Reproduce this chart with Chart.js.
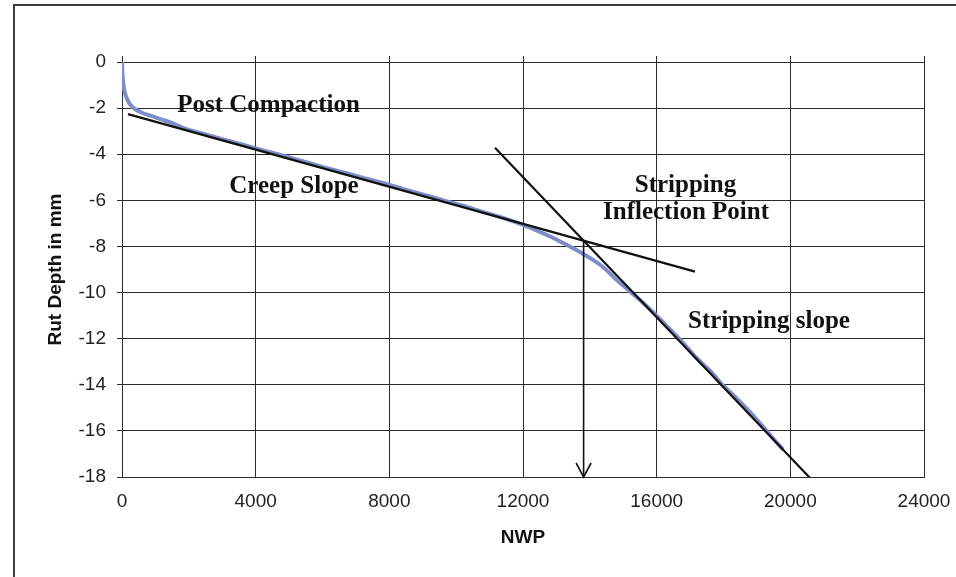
<!DOCTYPE html>
<html>
<head>
<meta charset="utf-8">
<script src="https://cdn.jsdelivr.net/npm/chart.js@4.4.1/dist/chart.umd.min.js"></script>
<style>
  html, body { margin: 0; padding: 0; background: #ffffff; }
  #wrap { position: relative; width: 956px; height: 577px; overflow: hidden; }
  #frame { position: absolute; left: 13px; top: 4px; width: 1000px; height: 700px;
           border-left: 2px solid #3c3c3c; border-top: 2px solid #3c3c3c; }
  canvas { position: absolute; left: 0; top: 0; }
</style>
</head>
<body>
<div id="wrap">
  <div id="frame"></div>
  <canvas id="chart" width="956" height="577"></canvas>
</div>
<script>
// Measured rut depth (mm) against number of wheel passes
const nwp = [0, 15, 40, 80, 150, 250, 400, 600, 850, 1150, 1500, 1900, 2400, 3000, 3600,
  4200, 4800, 5400, 6000, 6600, 7200, 7800, 8400, 9000, 9600, 10200, 10800, 11400, 12000,
  12400, 12800, 13200, 13600, 14000, 14400, 14800, 15200, 15600, 16000, 16400, 16800,
  17200, 17600, 18000, 18400, 18800, 19200, 19500, 19780];
const rutDepth = [0, -0.55, -0.95, -1.3, -1.6, -1.85, -2.05, -2.2, -2.33, -2.48, -2.65, -2.9,
  -3.1, -3.35, -3.58, -3.82, -4.05, -4.3, -4.55, -4.78, -5.02, -5.25, -5.5, -5.74, -5.99,
  -6.23, -6.5, -6.76, -7.06, -7.3, -7.56, -7.85, -8.15, -8.5, -8.9, -9.45, -9.95, -10.45,
  -11.0, -11.6, -12.2, -12.85, -13.4, -14.05, -14.6, -15.2, -15.85, -16.35, -16.8];

// Fitted creep and stripping lines (end points)
const creepNwp = [180, 17146];
const creepDepth = [-2.26, -9.09];
const stripNwp = [11162, 20588];
const stripDepth = [-3.72, -18.04];

// Axis ticks
const xTickValues = [0, 4000, 8000, 12000, 16000, 20000, 24000];
const yTickValues = [0, -2, -4, -6, -8, -10, -12, -14, -16, -18];

// Annotation texts
const noteTexts = ['Post Compaction', 'Creep Slope', 'Stripping', 'Inflection Point', 'Stripping slope'];
const noteNwp = [4384, 5147, 16863, 16878, 19361];
const noteDepth = [-2.15, -5.69, -5.62, -6.82, -11.55];

// Stripping inflection point = intersection of the two fitted lines
const creepSlope = (creepDepth[1] - creepDepth[0]) / (creepNwp[1] - creepNwp[0]);
const stripSlope = (stripDepth[1] - stripDepth[0]) / (stripNwp[1] - stripNwp[0]);
const inflNwp = (stripDepth[0] - stripSlope * stripNwp[0] - creepDepth[0] + creepSlope * creepNwp[0]) /
                (creepSlope - stripSlope);
const inflDepth = creepDepth[0] + creepSlope * (inflNwp - creepNwp[0]);
const yMin = yTickValues[yTickValues.length - 1];

const pts = (xs, ys) => xs.map((x, i) => ({ x: x, y: ys[i] }));

const notesPlugin = {
  id: 'notes',
  afterDatasetsDraw(chart) {
    const { ctx, scales } = chart;
    const xs = scales.x, ys = scales.y;
    ctx.save();
    // arrow head at the bottom of the inflection marker
    const ax = xs.getPixelForValue(inflNwp);
    const ay = ys.getPixelForValue(yMin);
    ctx.strokeStyle = '#111';
    ctx.lineWidth = 1.6;
    ctx.beginPath();
    ctx.moveTo(ax - 7.5, ay - 14);
    ctx.lineTo(ax, ay);
    ctx.lineTo(ax + 7.5, ay - 14);
    ctx.stroke();
    // text labels
    ctx.fillStyle = '#111';
    ctx.font = 'bold 25px "Liberation Serif", "Times New Roman", serif';
    ctx.textAlign = 'center';
    ctx.textBaseline = 'alphabetic';
    noteTexts.forEach((t, i) => {
      ctx.fillText(t, xs.getPixelForValue(noteNwp[i]), ys.getPixelForValue(noteDepth[i]));
    });
    ctx.restore();
  }
};

const tickFont = { family: '"Liberation Sans", Arial, sans-serif', size: 19 };
const titleFont = { family: '"Liberation Sans", Arial, sans-serif', size: 19, weight: 'bold' };
const gridColor = '#2a2a2a';

// horizontal axes: edge labels may overhang, the layout padding leaves room for them
const noSidePadding = s => { s.paddingLeft = 0; s.paddingRight = 0; };

new Chart(document.getElementById('chart'), {
  type: 'scatter',
  data: {
    datasets: [
      { data: pts(creepNwp, creepDepth), showLine: true, borderColor: '#111', borderWidth: 2.2,
        pointRadius: 0, order: 1 },
      { data: pts(stripNwp, stripDepth), showLine: true, borderColor: '#111', borderWidth: 2.2,
        pointRadius: 0, order: 1 },
      { data: [{ x: inflNwp, y: inflDepth }, { x: inflNwp, y: yMin }], showLine: true,
        borderColor: '#111', borderWidth: 1.6, pointRadius: 0, order: 1 },
      { data: pts(nwp, rutDepth), showLine: true, borderColor: '#7d8dca', borderWidth: 4,
        pointRadius: 0, tension: 0.3, order: 2 }
    ]
  },
  options: {
    responsive: false,
    animation: false,
    devicePixelRatio: 1,
    layout: { padding: { left: 0, right: 32, top: 56, bottom: 0 } },
    plugins: { legend: { display: false }, tooltip: { enabled: false } },
    scales: {
      x: {
        type: 'linear', position: 'bottom', min: 0, max: 24000,
        afterBuildTicks: s => { s.ticks = xTickValues.map(v => ({ value: v })); },
        afterFit: s => { s.height = 100; noSidePadding(s); },
        grid: { color: gridColor, lineWidth: 1, drawTicks: false },
        border: { color: gridColor, width: 1 },
        ticks: { font: tickFont, color: '#222', padding: 13, maxRotation: 0,
                 callback: v => String(v) },
        title: { display: true, text: 'NWP', font: titleFont, color: '#111',
                 padding: { top: 0, bottom: 28 } }
      },
      xTop: {
        type: 'linear', position: 'top', min: 0, max: 24000,
        afterBuildTicks: s => { s.ticks = xTickValues.map(v => ({ value: v })); },
        afterFit: s => { s.height = 6; noSidePadding(s); },
        grid: { color: gridColor, drawOnChartArea: false, drawTicks: true, tickLength: 6 },
        border: { color: gridColor, width: 1 },
        ticks: { display: false }
      },
      y: {
        type: 'linear', min: -18, max: 0,
        afterBuildTicks: s => { s.ticks = yTickValues.map(v => ({ value: v })); },
        afterFit: s => { s.width = 122; },
        grid: { color: gridColor, lineWidth: 1, drawTicks: true, tickLength: 5 },
        border: { color: gridColor, width: 1 },
        ticks: { font: tickFont, color: '#222', padding: 11, callback: v => String(v) },
        title: { display: true, text: 'Rut Depth in mm', font: titleFont, color: '#111',
                 padding: { top: 44, bottom: 0 } }
      }
    }
  },
  plugins: [notesPlugin]
});
</script>
</body>
</html>
